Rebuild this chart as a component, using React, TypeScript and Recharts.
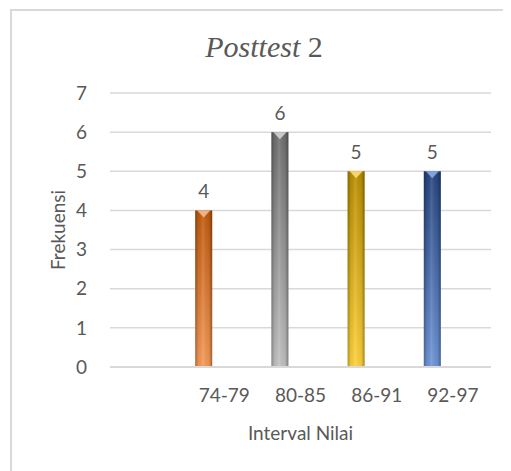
import React from 'react';
import { BarChart, Bar, XAxis, YAxis, CartesianGrid, LabelList, Cell } from 'recharts';

// Score intervals (the first slot is an empty category) and their frequencies
const categories = ['', '74-79', '80-85', '86-91', '92-97'];
const frequencies: (number | null)[] = [null, 4, 6, 5, 5];
const yTicks = [0, 1, 2, 3, 4, 5, 6, 7];

// Per-bar shading: top colour, bottom colour, cap highlight
const barShades = [
  { top: '#777777', bottom: '#bbbbbb', cap: '#dddddd' },
  { top: '#BF5A0E', bottom: '#F69A58', cap: '#F8BE94' },
  { top: '#6E6E6E', bottom: '#C2C2C2', cap: '#D8D8D8' },
  { top: '#B98E00', bottom: '#FFD23C', cap: '#FFE07A' },
  { top: '#26457F', bottom: '#6F96D8', cap: '#8FB0E8' },
];

const data = categories.map((c, i) => ({ interval: c, frekuensi: frequencies[i], spacer: null }));

const TEXT = '#595959';
const GRID = '#d9d9d9';
const FONT = 'Lato, "Liberation Sans", sans-serif';

const CylinderBar = (props: any) => {
  const { x, y, width, height, payload } = props;
  if (!height || height <= 0) return null;
  const idx = Math.max(0, categories.indexOf(payload?.interval));
  const capH = Math.min(7, height);
  return (
    <g>
      <rect x={x} y={y} width={width} height={height} fill={`url(#vert-${idx})`} />
      <rect x={x} y={y} width={width} height={height} fill="url(#edgeShade)" />
      <polygon
        points={`${x + 2},${y} ${x + width - 2},${y} ${x + width / 2},${y + capH}`}
        fill={barShades[idx].cap}
        opacity={0.85}
      />
    </g>
  );
};

const YLabel = (props: any) => {
  const vb = props.viewBox;
  const cx = vb.x + 49;
  const cy = vb.y + vb.height / 2;
  return (
    <text x={cx} y={cy} transform={`rotate(-90 ${cx} ${cy})`} textAnchor="middle" dominantBaseline="central"
      fill={TEXT} fontSize={19} fontFamily={FONT}>
      Frekuensi
    </text>
  );
};

const XLabel = (props: any) => {
  const vb = props.viewBox;
  return (
    <text x={vb.x + vb.width / 2} y={vb.y + 65} textAnchor="middle" dominantBaseline="central"
      fill={TEXT} fontSize={19} fontFamily={FONT}>
      Interval Nilai
    </text>
  );
};

export default function App() {
  return (
    <div style={{ position: 'relative', width: 503, height: 463, overflow: 'hidden', background: '#fff' }}>
      <div style={{ position: 'absolute', left: 2, top: 1, width: 540, height: 500, border: `2px solid ${GRID}`, boxSizing: 'border-box' }} />
      <div style={{ position: 'absolute', left: 0, top: 22, width: 512, textAlign: 'center', fontFamily: '"Liberation Serif", "Times New Roman", serif', fontSize: 30, color: TEXT, lineHeight: '34px' }}>
        <span style={{ fontStyle: 'italic' }}>Posttest</span> 2
      </div>
      <div style={{ position: 'absolute', left: 0, top: 0 }}>
        <BarChart width={503} height={463} data={data} margin={{ top: 85, right: 20, bottom: 74, left: 0 }} barSize={17} barGap={25} barCategoryGap={0}>
          <defs>
            {barShades.map((s, i) => (
              <linearGradient key={i} id={`vert-${i}`} x1="0" y1="0" x2="0" y2="1">
                <stop offset="0%" stopColor={s.top} />
                <stop offset="100%" stopColor={s.bottom} />
              </linearGradient>
            ))}
            <linearGradient id="edgeShade" x1="0" y1="0" x2="1" y2="0">
              <stop offset="0%" stopColor="#000" stopOpacity={0.3} />
              <stop offset="20%" stopColor="#000" stopOpacity={0.05} />
              <stop offset="45%" stopColor="#fff" stopOpacity={0.12} />
              <stop offset="80%" stopColor="#000" stopOpacity={0.05} />
              <stop offset="100%" stopColor="#000" stopOpacity={0.35} />
            </linearGradient>
          </defs>
          <CartesianGrid vertical={false} stroke={GRID} strokeWidth={1.5} />
          <XAxis dataKey="interval" axisLine={{ stroke: GRID, strokeWidth: 2 }} tickLine={false} tickMargin={16}
            tick={{ fill: TEXT, fontSize: 19, fontFamily: FONT }} interval={0} label={<XLabel />} />
          <YAxis width={102} domain={[0, 7]} ticks={yTicks} axisLine={false} tickLine={false} tickMargin={17}
            tick={{ fill: TEXT, fontSize: 19, fontFamily: FONT }} label={<YLabel />} />
          <Bar dataKey="frekuensi" shape={<CylinderBar />} isAnimationActive={false}>
            {data.map((_, i) => <Cell key={i} fill={barShades[i].bottom} />)}
            <LabelList dataKey="frekuensi" position="top" offset={12} fill={TEXT} fontSize={19} fontFamily={FONT} />
          </Bar>
          <Bar dataKey="spacer" isAnimationActive={false} fill="transparent" />
        </BarChart>
      </div>
    </div>
  );
}
